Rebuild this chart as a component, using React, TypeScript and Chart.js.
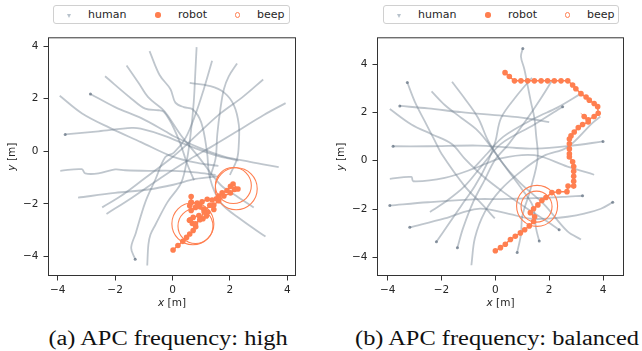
import React, { useEffect, useRef } from "react";
import { Chart, registerables } from "chart.js";

Chart.register(...registerables);

type P = [number, number];

// ---------- data ----------
const tickValues = [-4, -2, 0, 2, 4];
const legendLabels = ["human", "robot", "beep"];
const xAxisName = "x";
const yAxisName = "y";
const unitText = " [m]";
const captionA = "(a) APC frequency: high";
const captionB = "(b) APC frequency: balanced";

// panel (a): human trajectories
const humansA: P[][] = [
  [[-3.93, 2.11], [-3.15, 1.44], [-2.2, 0.9], [-1.1, 0.35], [0.0, -0.2], [0.9, -0.45], [1.6, -0.55]],
  [[-2.86, 2.18], [-2.0, 1.68], [-1.07, 1.25], [-0.25, 0.76], [0.03, 0.58], [0.9, 0.15], [1.8, -0.2], [2.7, -0.4], [3.7, -0.6]],
  [[-2.35, 2.85], [-1.42, 1.99], [-0.95, 1.62], [-0.49, 1.56], [-0.3, 1.5], [-0.01, 1.0], [0.28, 0.27], [0.51, -0.47], [0.75, -1.1]],
  [[-1.6, 3.26], [-1.18, 2.6], [-0.84, 2.05], [-0.37, 1.62], [-0.18, 1.38], [0.3, 0.6], [0.9, -0.2], [1.67, -1.27], [2.3, -1.75], [2.83, -2.13]],
  [[-0.8, 3.81], [-0.45, 2.9], [-0.07, 2.36], [0.1, 1.85], [0.39, 1.68], [0.7, 1.6], [1.0, 1.1], [1.2, 0.0], [1.3, -1.0], [1.67, -1.94], [2.4, -2.6], [3.24, -3.24]],
  [[0.84, 3.96], [0.8, 3.1], [0.74, 1.87], [0.63, 0.64], [0.51, -0.28], [0.3, -1.2], [-0.18, -1.94], [-0.6, -2.8], [-0.77, -3.17], [-0.84, -3.54], [-0.88, -4.34]],
  [[1.38, 3.44], [1.09, 2.36], [0.8, 1.4], [0.45, 0.5], [0.05, -0.05], [-0.25, -0.22], [-0.6, -1.08], [-0.95, -1.94], [-1.28, -3.11], [-1.44, -3.67], [-1.3, -4.1]],
  [[2.25, 3.34], [1.96, 2.85], [1.79, 2.36], [1.67, 1.62], [1.56, 0.64], [1.5, -0.28], [1.3, -1.0]],
  [[0.6, 2.6], [1.32, 2.48], [1.79, 2.24], [2.14, 1.75], [2.31, 1.01], [2.31, 0.27], [2.25, -0.28], [2.0, -0.9]],
  [[3.16, 2.73], [2.43, 2.05], [1.67, 1.44], [0.98, 0.76], [0.39, 0.15], [-0.07, -0.28], [-1.0, -1.05], [-1.8, -1.7], [-2.45, -2.13]],
  [[3.94, 1.83], [3.18, 1.38], [2.25, 0.76], [1.32, 0.15], [0.63, -0.28], [-0.4, -1.0], [-1.4, -1.75], [-2.3, -2.38]],
  [[-3.74, 0.64], [-2.58, 0.76], [-1.42, 0.89], [-1.11, 0.86], [-0.3, 0.6], [0.6, 0.2], [1.5, -0.15], [2.3, -0.35]],
  [[-3.91, -0.74], [-3.16, -0.68], [-3.04, -0.84], [-2.58, -0.84], [-2.0, -0.69], [-1.65, -0.72], [-0.84, -0.74], [0.03, -0.74], [0.8, -0.8], [1.5, -0.9]],
  [[-3.29, -1.76], [-2.0, -1.58], [-0.84, -1.45], [0.03, -1.27], [0.8, -1.05], [1.6, -0.95]],
];

const robotA: P[] = [
  [0.02, -3.75], [0.19, -3.58], [0.36, -3.42], [0.49, -3.27], [0.6, -3.14], [0.72, -3.01], [0.81, -2.87],
  [0.69, -2.74], [0.59, -2.62], [0.72, -2.51], [0.92, -2.44], [1.06, -2.56], [1.18, -2.46], [1.23, -2.31],
  [1.09, -2.19], [0.95, -2.09], [0.8, -2.13], [0.65, -2.25], [0.6, -2.07], [0.65, -1.94], [0.65, -1.72],
  [0.65, -1.94], [0.86, -1.97], [1.03, -1.92], [1.21, -1.82], [1.38, -1.85], [1.53, -1.8], [1.61, -1.7],
  [1.73, -1.58], [1.9, -1.49], [2.02, -1.33], [2.11, -1.24], [2.28, -1.43], [2.16, -1.45], [2.02, -1.58],
  [1.79, -1.7], [1.61, -1.88], [1.44, -2.04], [1.44, -2.21], [1.3, -2.05], [1.1, -2.3], [0.95, -2.6],
  [0.8, -2.75], [0.62, -2.6],
];

const beepA: P[] = [[2.12, -1.3], [2.22, -1.42], [0.71, -2.75], [0.8, -2.84]];

// panel (b): human trajectories
const humansB: P[][] = [
  [[1.02, 4.65], [0.95, 4.32], [1.08, 3.78], [1.2, 3.11], [1.32, 2.44], [1.45, 1.77], [1.51, 1.1], [1.57, 0.09], [1.3, -1.2], [1.0, -2.3], [0.95, -3.06], [0.81, -3.8]],
  [[-3.27, 3.24], [-2.99, 2.44], [-2.62, 1.63], [-2.25, 0.83], [-2.0, 0.29], [-1.14, -1.05], [-0.5, -1.8], [-0.02, -2.39]],
  [[-3.55, 2.27], [-2.5, 2.17], [-1.26, 2.01], [0.29, 1.86], [1.2, 1.75], [2.0, 1.6]],
  [[-3.8, 0.6], [-2.5, 0.6], [-0.64, 0.63], [0.5, 0.55], [1.5, 0.5], [2.8, 0.62], [4.0, 0.8]],
  [[-3.92, 2.14], [-3.12, 1.5], [-2.37, 1.1], [-1.63, 0.7], [-1.14, 0.09], [-0.5, -0.6], [0.3, -1.3], [1.2, -2.0], [1.9, -2.5], [2.37, -2.86]],
  [[-2.37, 2.87], [-1.88, 2.31], [-1.26, 1.77], [-0.64, 1.23], [-0.15, 0.56], [0.4, -0.3], [1.0, -1.2], [1.4, -1.9], [1.51, -2.79], [1.63, -3.33]],
  [[-1.61, 3.27], [-1.14, 2.58], [-0.64, 1.77], [-0.27, 0.83], [0.2, 0.0], [0.9, -0.9], [1.8, -1.8], [2.68, -2.93], [3.18, -3.26]],
  [[2.5, 2.24], [1.45, 1.5], [0.21, 0.7], [-0.5, -0.2], [-1.14, -1.05], [-1.88, -1.72], [-2.43, -2.12]],
  [[-0.89, -4.33], [-0.76, -3.2], [-0.39, -2.12], [0.2, -1.2], [1.0, -0.4], [1.8, 0.2], [2.68, 0.56], [3.61, 1.57], [3.9, 1.83]],
  [[3.18, 2.78], [2.3, 2.2], [1.48, 1.77], [0.3, 1.0], [-0.3, 0.3], [-0.8, -0.3]],
  [[-3.92, -1.85], [-2.5, -1.72], [-0.64, -1.59], [0.21, -1.59], [1.5, -1.55], [2.5, -1.5], [3.24, -1.45]],
  [[-3.18, -2.76], [-1.88, -2.39], [-0.64, -1.99], [0.5, -2.2], [1.3, -2.4], [2.07, -2.39], [2.68, -2.32], [3.3, -2.19], [3.92, -1.99], [4.36, -1.72]],
  [[-2.19, -3.36], [-1.76, -2.66], [-1.26, -1.85], [-0.76, -1.05], [-0.3, -0.1], [0.0, 0.8], [0.21, 1.77], [0.8, 2.7], [1.36, 3.44]],
  [[-1.41, -3.6], [-1.2, -2.79], [-0.83, -1.72], [-0.39, -0.78], [-0.02, 0.02], [0.5, 0.7], [1.2, 1.77], [1.7, 2.6], [2.1, 3.31]],
  [[-3.92, -0.75], [-3.12, -0.67], [-3.05, -0.85], [-1.88, -0.71], [-0.76, -0.31], [0.2, 0.1], [1.45, 0.23], [2.68, -0.24], [3.67, -0.58]],
];

const robotB: P[] = [
  [0.36, 3.65], [0.52, 3.49], [0.71, 3.31], [0.95, 3.31], [1.2, 3.31], [1.45, 3.31], [1.7, 3.31], [1.94, 3.31],
  [2.19, 3.31], [2.44, 3.31], [2.69, 3.31], [2.87, 3.14], [2.99, 2.98], [3.18, 2.78], [3.37, 2.64], [3.49, 2.51],
  [3.67, 2.37], [3.8, 2.24], [3.82, 1.97], [3.67, 1.83], [3.45, 1.7], [3.3, 1.83], [3.45, 1.61], [3.24, 1.5],
  [3.08, 1.37], [2.93, 1.19], [2.81, 1.03], [2.75, 0.9], [2.75, 0.7], [2.75, 0.49], [2.75, 0.29], [2.75, 0.16],
  [2.87, -0.04], [2.91, -0.24], [2.91, -0.44], [2.91, -0.64], [2.91, -0.85], [2.91, -1.05], [2.7, -1.05],
  [2.66, -1.28], [2.35, -1.28], [2.1, -1.32], [1.88, -1.52], [1.73, -1.65], [1.58, -1.83], [1.42, -1.99],
  [1.3, -2.15], [1.46, -2.32], [1.42, -2.52], [1.26, -2.7], [1.09, -2.86], [0.93, -2.99], [0.74, -3.13],
  [0.56, -3.26], [0.37, -3.46], [0.19, -3.6], [0.0, -3.73],
];

const beepB: P[] = [[1.55, -1.87], [1.53, -1.9]];

// ---------- styles ----------
const CORAL = "#ff7f50";
const HUMAN = "rgba(112,128,144,0.45)";
const HUMAN_END = "rgba(90,105,122,0.7)";
const TEXT = "#262626";
const FONT = "'DejaVu Sans', sans-serif";

// which trajectory ends look darker (slow walking) – style only: [start, end]
const darkEndsA: Record<number, [boolean, boolean]> = { 1: [true, false], 6: [false, true], 11: [true, false] };
const darkEndsB: Record<number, [boolean, boolean]> = {
  0: [true, true], 1: [true, false], 2: [true, false], 3: [true, true], 4: [false, true], 5: [false, true],
  7: [true, false], 10: [true, true], 11: [true, true], 12: [true, false], 13: [true, false],
};

const fmt = (v: number | string) => {
  const n = Number(v);
  return n < 0 ? "\u2212" + Math.abs(n) : String(n);
};

function drawAxisName(ctx: CanvasRenderingContext2D, name: string, cx: number, cy: number) {
  const it = `italic 10.5px ${FONT}`;
  const nf = `10.5px ${FONT}`;
  ctx.font = it;
  const w1 = ctx.measureText(name).width;
  ctx.font = nf;
  const w2 = ctx.measureText(unitText).width;
  const x0 = cx - (w1 + w2) / 2;
  ctx.textAlign = "left";
  ctx.textBaseline = "middle";
  ctx.font = it;
  ctx.fillText(name, x0, cy);
  ctx.font = nf;
  ctx.fillText(unitText, x0 + w1, cy);
}

const framePlugin = {
  id: "frameAndTitles",
  afterDraw(chart: any) {
    const { ctx, chartArea: a } = chart;
    ctx.save();
    ctx.strokeStyle = "#333";
    ctx.lineWidth = 1;
    ctx.strokeRect(a.left + 0.5, a.top + 0.5, a.right - a.left - 1, a.bottom - a.top - 1);
    ctx.fillStyle = TEXT;
    drawAxisName(ctx, xAxisName, (a.left + a.right) / 2, a.bottom + 27);
    ctx.translate(a.left - 35.5, (a.top + a.bottom) / 2);
    ctx.rotate(-Math.PI / 2);
    drawAxisName(ctx, yAxisName, 0, 0);
    ctx.restore();
  },
};

type PanelProps = {
  humans: P[][];
  robot: P[];
  beep: P[];
  beepRadii: number[];
  darkEnds: Record<number, [boolean, boolean]>;
  xRange: [number, number];
  yRange: [number, number];
  left: number;
  width: number;
  yAxisWidth: number;
};

function Panel({ humans, robot, beep, beepRadii, darkEnds, xRange, yRange, left, width, yAxisWidth }: PanelProps) {
  const ref = useRef<HTMLCanvasElement>(null);
  useEffect(() => {
    const toPts = (arr: P[]) => arr.map(([x, y]) => ({ x, y }));
    const datasets: any[] = [
      {
        label: "beep",
        data: toPts(beep),
        showLine: false,
        pointStyle: "circle",
        pointRadius: beepRadii,
        pointHoverRadius: 0,
        pointBorderWidth: 1.1,
        pointBorderColor: CORAL,
        pointBackgroundColor: "rgba(0,0,0,0)",
        order: 0,
      },
      {
        label: "robot",
        data: toPts(robot),
        showLine: true,
        borderColor: CORAL,
        borderWidth: 1.5,
        pointRadius: 2.8,
        pointBorderWidth: 0,
        pointBackgroundColor: CORAL,
        order: 1,
      },
      ...humans.map((h, k) => {
        const flags = darkEnds[k] || [false, false];
        return {
          label: "human",
          data: toPts(h),
          showLine: true,
          borderColor: HUMAN,
          borderWidth: 1.8,
          tension: 0.35,
          pointRadius: (c: any) =>
            (c.dataIndex === 0 && flags[0]) || (c.dataIndex === h.length - 1 && flags[1]) ? 1.5 : 0,
          pointBorderWidth: 0,
          pointBackgroundColor: HUMAN_END,
          order: 2,
        };
      }),
    ];
    const axisCommon = {
      type: "linear" as const,
      grid: { display: true, drawOnChartArea: false, drawTicks: true, tickLength: 4.5, color: "#333", lineWidth: 1 },
      border: { display: false },
      afterBuildTicks: (s: any) => {
        s.ticks = tickValues.map((v) => ({ value: v }));
      },
    };
    const chart = new Chart(ref.current as HTMLCanvasElement, {
      type: "scatter",
      data: { datasets },
      plugins: [framePlugin],
      options: {
        responsive: false,
        animation: false,
        events: [],
        devicePixelRatio: 1,
        layout: { autoPadding: false, padding: { top: 4, right: 4, left: 0, bottom: 0 } },
        plugins: { legend: { display: false }, tooltip: { enabled: false } },
        scales: {
          x: {
            ...axisCommon,
            min: xRange[0],
            max: xRange[1],
            afterFit: (s: any) => {
              s.height = 38;
            },
            ticks: { font: { family: FONT, size: 10.5 }, color: TEXT, padding: 3, maxRotation: 0, autoSkip: false, callback: fmt },
          },
          y: {
            ...axisCommon,
            min: yRange[0],
            max: yRange[1],
            afterFit: (s: any) => {
              s.width = yAxisWidth;
            },
            ticks: { font: { family: FONT, size: 10.5 }, color: TEXT, padding: 5, autoSkip: false, callback: fmt },
          },
        },
      } as any,
    });
    return () => chart.destroy();
  }, []);
  return (
    <canvas
      ref={ref}
      width={width}
      height={288}
      style={{ position: "absolute", left, top: 26, width, height: 288 }}
    />
  );
}

function Legend({ left, width }: { left: number; width: number }) {
  const marker = (i: number) => {
    if (i === 0)
      return (
        <span
          style={{
            position: "absolute",
            left: -2.5,
            top: -1.5,
            width: 0,
            height: 0,
            borderLeft: "2.5px solid transparent",
            borderRight: "2.5px solid transparent",
            borderTop: "4px solid #b8c2cc",
          }}
        />
      );
    if (i === 1)
      return (
        <span
          style={{ position: "absolute", left: -2.7, top: -2.7, width: 5.4, height: 5.4, borderRadius: "50%", background: CORAL }}
        />
      );
    return (
      <span
        style={{
          position: "absolute",
          left: -2.7,
          top: -2.7,
          width: 3.4,
          height: 3.4,
          borderRadius: "50%",
          border: `1px solid ${CORAL}`,
        }}
      />
    );
  };
  const markerX = [16, 105, 184.5];
  const textX = [35, 125, 204];
  return (
    <div
      style={{
        position: "absolute",
        left,
        top: 5,
        width,
        height: 19,
        boxSizing: "border-box",
        border: "1px solid #d0d0d0",
        borderRadius: 3,
        background: "white",
      }}
    >
      {legendLabels.map((lab, i) => (
        <React.Fragment key={lab}>
          <span style={{ position: "absolute", left: markerX[i] - 1, top: 9 }}>{marker(i)}</span>
          <span
            style={{
              position: "absolute",
              left: textX[i] - 1,
              top: 0,
              lineHeight: "17px",
              fontFamily: FONT,
              fontSize: 11,
              color: TEXT,
              whiteSpace: "nowrap",
            }}
          >
            {lab}
          </span>
        </React.Fragment>
      ))}
    </div>
  );
}

function Caption({ text, center }: { text: string; center: number }) {
  return (
    <div
      style={{
        position: "absolute",
        left: center - 200,
        top: 328,
        width: 400,
        textAlign: "center",
        fontFamily: "'Liberation Serif', 'Times New Roman', serif",
        fontSize: 20,
        lineHeight: "20px",
        color: "#111",
        whiteSpace: "nowrap",
        transform: "scaleX(1.22)",
        transformOrigin: "center",
      }}
    >
      {text}
    </div>
  );
}

export default function App() {
  return (
    <div style={{ position: "absolute", left: 0, top: 0, width: 642, height: 351, background: "white", overflow: "hidden" }}>
      <Panel
        humans={humansA}
        robot={robotA}
        beep={beepA}
        beepRadii={[18, 21, 21, 17.5]}
        darkEnds={darkEndsA}
        xRange={[-4.338, 4.303]}
        yRange={[-4.737, 4.332]}
        left={0}
        width={300}
        yAxisWidth={48}
      />
      <Panel
        humans={humansB}
        robot={robotB}
        beep={beepB}
        beepRadii={[20.5, 15.5]}
        darkEnds={darkEndsB}
        xRange={[-4.397, 4.779]}
        yRange={[-4.775, 5.114]}
        left={330}
        width={298}
        yAxisWidth={47}
      />
      <Legend left={53} width={237} />
      <Legend left={383} width={236} />
      <Caption text={captionA} center={167.5} />
      <Caption text={captionB} center={496.5} />
    </div>
  );
}
